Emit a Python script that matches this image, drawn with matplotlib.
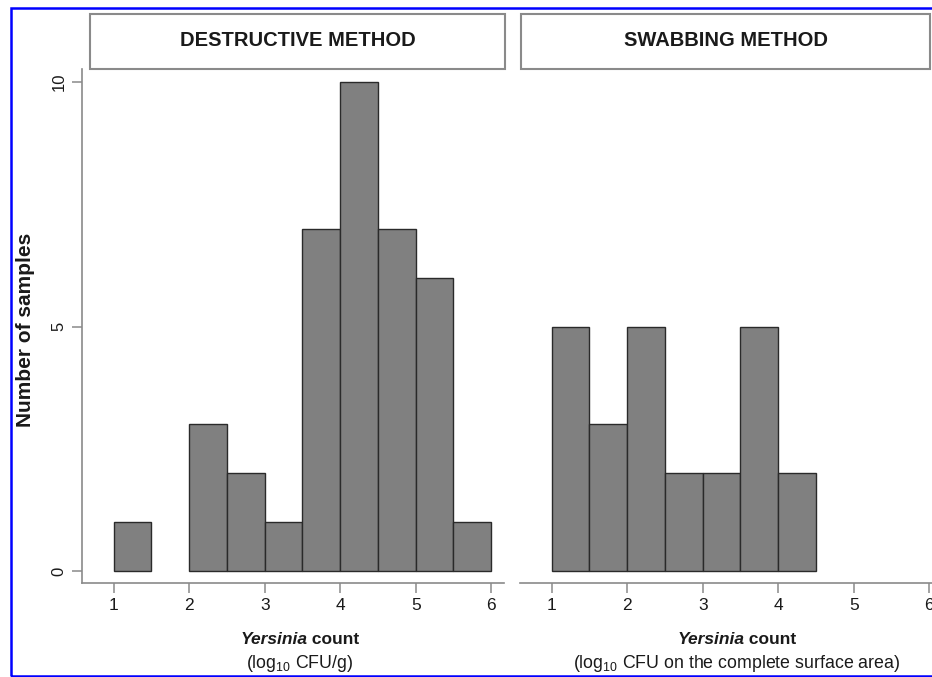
import matplotlib
matplotlib.use("Agg")
import matplotlib.pyplot as plt
from matplotlib.patches import Rectangle

plt.rcParams['font.family'] = ['Liberation Sans', 'DejaVu Sans']
plt.rcParams['mathtext.fontset'] = 'custom'
plt.rcParams['mathtext.rm'] = 'Liberation Sans'
plt.rcParams['mathtext.it'] = 'Liberation Sans:italic'
plt.rcParams['mathtext.bf'] = 'Liberation Sans:bold'

# ---- data ----
bin_edges = [1.0, 1.5, 2.0, 2.5, 3.0, 3.5, 4.0, 4.5, 5.0, 5.5, 6.0]
destructive_counts = [1, 0, 3, 2, 1, 7, 10, 7, 6, 1]
swabbing_counts = [5, 3, 5, 2, 2, 5, 2]
panel_titles = ["DESTRUCTIVE METHOD", "SWABBING METHOD"]
x_ticks = [1, 2, 3, 4, 5, 6]
y_ticks = [0, 5, 10]
y_label = "Number of samples"
x_label_italic = "Yersinia"
x_label_rest = " count"
x_units = ["(log$_{10}$ CFU/g)", "(log$_{10}$ CFU on the complete surface area)"]

W, H, DPI = 932, 677, 100
fig = plt.figure(figsize=(W / DPI, H / DPI), dpi=DPI)
fig.patch.set_facecolor('white')

def px(x0, ytop, x1, ybot):
    return [x0 / W, (H - ybot) / H, (x1 - x0) / W, (ybot - ytop) / H]

axis_gray = '#8a8a8a'
text_col = '#1a1a1a'

ax_left = fig.add_axes(px(82, 69, 504, 583))
ax_right = fig.add_axes(px(520, 69, 942, 583))
axes = [ax_left, ax_right]
series = [destructive_counts, swabbing_counts]

for i, (ax, counts) in enumerate(zip(axes, series)):
    lefts = [bin_edges[j] for j, c in enumerate(counts) if c > 0]
    heights = [c for c in counts if c > 0]
    ax.bar(lefts, heights, width=0.5, align='edge', color='#808080',
           edgecolor='#2a2a2a', linewidth=1.0, zorder=2)
    ax.set_xlim(0.58, 6.17)
    ax.set_ylim(-0.245, 10.27)
    ax.set_facecolor('white')
    for s in ['top', 'right']:
        ax.spines[s].set_visible(False)
    ax.spines['bottom'].set_color(axis_gray)
    ax.spines['bottom'].set_linewidth(1.2)
    ax.set_xticks(x_ticks)
    ax.set_xticklabels([str(t) for t in x_ticks], fontsize=12.5, color=text_col)
    ax.tick_params(axis='x', direction='out', length=7, width=1.1,
                   color=axis_gray, pad=4)
    if i == 0:
        ax.spines['left'].set_color(axis_gray)
        ax.spines['left'].set_linewidth(1.2)
        ax.set_yticks(y_ticks)
        ax.set_yticklabels([str(t) for t in y_ticks], fontsize=12,
                           color=text_col, rotation=90, va='center')
        ax.tick_params(axis='y', direction='out', length=7, width=1.1,
                       color=axis_gray, pad=4)
    else:
        ax.spines['left'].set_visible(False)
        ax.set_yticks([])

# strip boxes
strips = [(90, 505), (521, 930)]
for (x0, x1), title in zip(strips, panel_titles):
    rect = Rectangle((x0 / W, (H - 69) / H), (x1 - x0) / W, (69 - 14) / H,
                     transform=fig.transFigure, facecolor='white',
                     edgecolor=axis_gray, linewidth=1.5)
    fig.add_artist(rect)
    fig.text((x0 + x1) / 2 / W, (H - 40.5) / H, title, ha='center', va='center',
             fontsize=14.5, fontweight='bold', color=text_col)

# y label
fig.text(26 / W, (H - 330) / H, y_label, rotation=90, ha='center',
         va='center', fontsize=15, fontweight='bold', color=text_col)

# x labels
fig.canvas.draw()
renderer = fig.canvas.get_renderer()
centers = [300, 737]
for cx, units in zip(centers, x_units):
    t1 = fig.text(0, 0, x_label_italic, fontsize=12.5, fontweight='bold',
                  style='italic', color=text_col, va='center')
    t2 = fig.text(0, 0, x_label_rest, fontsize=12.5, fontweight='bold',
                  color=text_col, va='center')
    w1 = t1.get_window_extent(renderer).width
    w2 = t2.get_window_extent(renderer).width
    start = cx - (w1 + w2) / 2
    yc = H - 639
    t1.set_position((start / W, yc / H))
    t2.set_position(((start + w1) / W, yc / H))
    fig.text(cx / W, (H - 663) / H, units, ha='center', va='center',
             fontsize=12.8, color=text_col)

# blue frame
frame = Rectangle((11 / W, 1 / H), (960 - 11) / W, (669 - 1) / H,
                  transform=fig.transFigure, facecolor='none',
                  edgecolor='#0000ff', linewidth=1.8, clip_on=False)
fig.add_artist(frame)

fig.savefig('out.png', dpi=DPI)
